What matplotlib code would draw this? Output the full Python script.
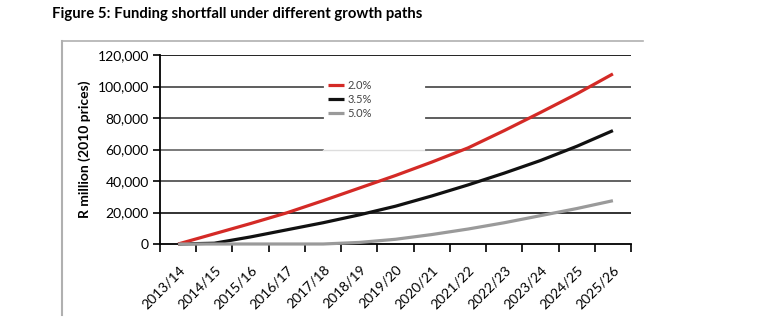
import numpy as np
import matplotlib.pyplot as plt
from matplotlib.lines import Line2D

plt.rcParams['font.family'] = ['Lato', 'DejaVu Sans']

years = ['2013/14', '2014/15', '2015/16', '2016/17', '2017/18', '2018/19', '2019/20',
         '2020/21', '2021/22', '2022/23', '2023/24', '2024/25', '2025/26']
growth_20 = [0, 6.5, 13, 19.8, 27.5, 35.5, 43.5, 52, 61, 72, 83.5, 95.3, 108]
growth_35 = [0, 0.5, 4.5, 9, 13.5, 18.5, 24, 30.5, 37.5, 45, 53, 62, 72]
growth_50 = [0, 0, 0, 0, 0, 1, 3, 6, 9.5, 13.5, 18, 22.5, 27.5]
labels = ['2.0%', '3.5%', '5.0%']
colors = ['#d42a26', '#111111', '#9a9a9a']

x = np.arange(len(years))

fig = plt.figure(figsize=(7.84, 3.36), dpi=100)
ax = fig.add_axes([0.2041, 0.2738, 0.6008, 0.5625])

# outer frame (top and left only)
fig.add_artist(Line2D([62/784, 643/784], [1-41/336, 1-41/336], color='#b0b0b0', lw=1.2))
fig.add_artist(Line2D([62/784, 62/784], [1-41/336, 1-315/336], color='#b0b0b0', lw=1.5))

fig.text(52/784, 1-14/336, 'Figure 5: Funding shortfall under different growth paths',
         fontsize=10.7, fontweight='bold', va='center', ha='left')

# gridlines, broken where the legend sits
gap = ((323-160)/471, (426-160)/471)
for val, col in [(120, '#111111'), (40, '#555555'), (20, '#222222')]:
    ax.axhline(val*1000, color=col, lw=1.3, zorder=1)
for val in [100, 80]:
    ax.axhline(val*1000, xmin=0, xmax=gap[0], color='#505050', lw=1.3, zorder=1)
    ax.axhline(val*1000, xmin=gap[1], xmax=1, color='#505050', lw=1.3, zorder=1)
ax.axhline(60000, xmin=0, xmax=gap[0], color='#707070', lw=1.3, zorder=1)
ax.axhline(60000, xmin=gap[0], xmax=gap[1], color='#dddddd', lw=1.0, zorder=1)
ax.axhline(60000, xmin=gap[1], xmax=1, color='#707070', lw=1.3, zorder=1)

series = [growth_20, growth_35, growth_50]
for vals, lab, col, z in zip(series, labels, colors, [4, 3, 5]):
    ax.plot(x, np.array(vals)*1000, color=col, lw=2.3, label=lab, zorder=z,
            clip_on=False, solid_capstyle='butt')

ax.set_xlim(-0.5, len(years)-0.5)
ax.set_ylim(0, 120000)
ax.set_yticks(np.arange(0, 120001, 20000))
ax.set_yticklabels([f'{v:,}' for v in range(0, 120001, 20000)], fontsize=10)
ax.set_xticks(x)
ax.set_xticklabels(years, rotation=45, ha='right', rotation_mode='anchor', fontsize=10)
ax.set_xticks(np.arange(-0.5, len(years), 1), minor=True)
ax.tick_params(axis='x', which='major', length=0, pad=14)
ax.tick_params(axis='x', which='minor', length=6, width=1.2, direction='out')
ax.tick_params(axis='y', length=5, width=1.2, direction='out', pad=3)

for s in ['top', 'right']:
    ax.spines[s].set_visible(False)
ax.spines['left'].set_linewidth(1.3)
ax.spines['bottom'].set_linewidth(1.3)

ax.set_ylabel('R million (2010 prices)', fontsize=10, fontweight='bold', labelpad=5)

ax.legend(loc='upper left', bbox_to_anchor=((322-160)/471, (244-74)/189), frameon=False,
          fontsize=8, handlelength=1.5, handletextpad=0.3, labelspacing=0.3,
          labelcolor='#444444', borderpad=0)

fig.savefig('out.png', dpi=100)
